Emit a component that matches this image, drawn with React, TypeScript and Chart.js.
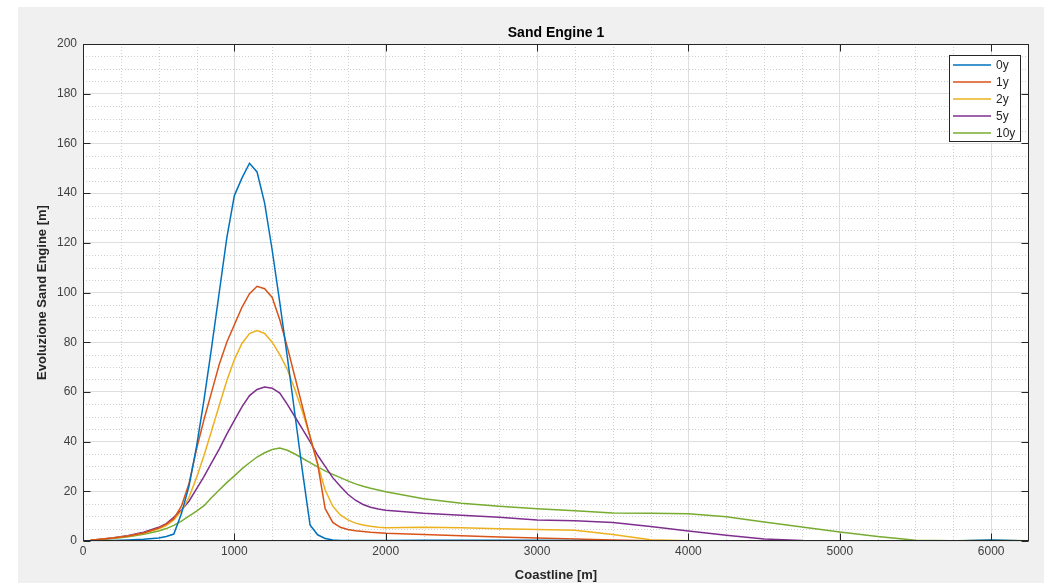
import React, { useEffect, useRef } from 'react';
import { Chart, registerables } from 'chart.js';

Chart.register(...registerables);

const FONT = '"Liberation Sans", Arial, Helvetica, sans-serif';

// Coastline positions [m]
const X = [50, 100, 200, 300, 400, 500,
  550, 600, 650, 700, 750, 800, 850, 900, 950, 1000, 1050, 1100, 1150, 1200, 1250, 1300, 1350, 1400, 1450, 1500,
  1550, 1600, 1650, 1700, 1750, 1800, 1850, 1900, 1950, 2000,
  2250, 2500, 2750, 3000, 3250, 3500, 3750, 4000, 4250, 4500, 4750, 5000, 5250, 5500, 5750, 6000, 6250];

const LABELS = ['0y', '1y', '2y', '5y', '10y'];
const COLORS = ['#0072BD', '#D95319', '#EDB120', '#7E2F8E', '#77AC30'];

const Y0 = [0, 0.1, 0.2, 0.4, 0.7, 1.2,
  1.8, 2.8, 11, 22, 38, 57, 78, 100, 122, 139, 146, 152, 148.5, 136, 117, 96, 74, 51, 28, 6.5,
  2.5, 1, 0.4, 0.2, 0.2, 0.2, 0.2, 0.2, 0.2, 0.2,
  0.3, 0.3, 0.3, 0.3, 0.2, 0, 0, 0, 0, 0, 0, 0, 0, 0, 0, 0.4, 0];

const Y1 = [0.3, 0.6, 1.2, 2, 3.2, 5.2,
  6.8, 9, 14, 23, 37, 49, 60, 71, 80, 87, 94, 99.5, 102.5, 101.5, 98, 89, 78, 66, 54, 42,
  31, 13, 7.5, 5.5, 4.6, 4.1, 3.8, 3.5, 3.3, 3.1,
  2.6, 2.1, 1.6, 1.2, 0.8, 0.4, 0.1, 0, 0, 0, 0, 0, 0, 0, 0, 0, 0];

const Y2 = [0.3, 0.6, 1.2, 2, 3.1, 4.9,
  6.2, 8.5, 12, 17.5, 25.5, 34.5, 44.5, 54.5, 64.5, 73, 79.5, 83.5, 84.7, 83.5, 80, 75, 69, 61, 52, 42,
  31, 20.5, 14, 10.5, 8.5, 7.2, 6.4, 5.9, 5.5, 5.3,
  5.5, 5.3, 4.9, 4.6, 4.3, 2.6, 0.5, 0.1, 0, 0, 0, 0, 0, 0, 0, 0, 0];

const Y5 = [0.3, 0.6, 1.3, 2.2, 3.5, 5.5,
  7, 9.5, 12.5, 16, 21, 26, 31.5, 37, 43, 48.5, 54, 58.5, 61, 62, 61.5, 59.5, 55, 50, 45, 40,
  34.5, 30, 25.5, 22, 18.8, 16.4, 14.7, 13.6, 12.9, 12.4,
  11.2, 10.4, 9.6, 8.5, 8.1, 7.4, 5.8, 4, 2.3, 0.8, 0.2, 0, 0, 0, 0, 0, 0];

const Y10 = [0.3, 0.5, 1, 1.7, 2.7, 4,
  5, 6.3, 8, 10, 12, 14.2, 17.5, 20.5, 23.5, 26.2, 29, 31.5, 33.8, 35.5, 36.8, 37.4, 36.5, 35, 33.3, 31.5,
  29.8, 28.2, 26.8, 25.5, 24.2, 23, 22, 21.2, 20.5, 19.8,
  17, 15.2, 14, 13, 12.2, 11.3, 11.2, 11, 9.8, 7.6, 5.6, 3.6, 1.8, 0.3, 0.1, 0.3, 0.1];

const SERIES = [Y0, Y1, Y2, Y5, Y10];

const X_TICKS = [0, 1000, 2000, 3000, 4000, 5000, 6000];
const Y_TICKS = [0, 20, 40, 60, 80, 100, 120, 140, 160, 180, 200];
const X_MIN = 0;
const X_MAX = 6250;
const X_MINOR = 250;
const Y_MIN = 0;
const Y_MAX = 200;
const Y_MINOR = 5;

const bgPlugin = {
  id: 'bgPlugin',
  beforeDraw(chart: any) {
    const { ctx, width, height, chartArea: a } = chart;
    ctx.save();
    ctx.fillStyle = '#ffffff';
    ctx.fillRect(0, 0, width, height);
    ctx.fillStyle = '#f0f0f0';
    ctx.fillRect(18, 7, width - 18, height - 7);
    ctx.fillStyle = '#ffffff';
    ctx.fillRect(a.left, a.top, a.right - a.left, a.bottom - a.top);
    ctx.restore();
  },
  beforeDatasetsDraw(chart: any) {
    const { ctx, chartArea: a, scales } = chart;
    const xs = scales.x;
    const ys = scales.y;
    ctx.save();
    ctx.strokeStyle = '#cfcfcf';
    ctx.lineWidth = 1;
    ctx.setLineDash([1, 2]);
    for (let v = X_MIN + X_MINOR; v < X_MAX; v += X_MINOR) {
      if (X_TICKS.includes(v)) continue;
      const px = Math.round(xs.getPixelForValue(v)) + 0.5;
      ctx.beginPath();
      ctx.moveTo(px, a.top);
      ctx.lineTo(px, a.bottom);
      ctx.stroke();
    }
    for (let v = Y_MIN + Y_MINOR; v < Y_MAX; v += Y_MINOR) {
      if (Y_TICKS.includes(v)) continue;
      const py = Math.round(ys.getPixelForValue(v)) + 0.5;
      ctx.beginPath();
      ctx.moveTo(a.left, py);
      ctx.lineTo(a.right, py);
      ctx.stroke();
    }
    ctx.restore();
  },
  afterDraw(chart: any) {
    const { ctx, chartArea: a, scales } = chart;
    const xs = scales.x;
    const ys = scales.y;
    ctx.save();
    ctx.strokeStyle = '#262626';
    ctx.lineWidth = 1;
    ctx.setLineDash([]);
    const L = Math.round(a.left) + 0.5;
    const R = Math.round(a.right) - 0.5;
    const T = Math.round(a.top) + 0.5;
    const B = Math.round(a.bottom) - 0.5;
    ctx.strokeRect(L, T, R - L, B - T);
    const tl = 7;
    ctx.beginPath();
    X_TICKS.forEach((v) => {
      const px = Math.round(xs.getPixelForValue(v)) + 0.5;
      ctx.moveTo(px, B);
      ctx.lineTo(px, B - tl);
      ctx.moveTo(px, T);
      ctx.lineTo(px, T + tl);
    });
    Y_TICKS.forEach((v) => {
      const py = Math.round(ys.getPixelForValue(v)) + 0.5;
      ctx.moveTo(L, py);
      ctx.lineTo(L + tl, py);
      ctx.moveTo(R, py);
      ctx.lineTo(R - tl, py);
    });
    ctx.stroke();

    // legend
    const lw = 71;
    const lh = 86;
    const lx = Math.round(a.right) - 80;
    const ly = Math.round(a.top) + 11;
    ctx.fillStyle = '#ffffff';
    ctx.fillRect(lx, ly, lw, lh);
    ctx.strokeStyle = '#262626';
    ctx.strokeRect(lx + 0.5, ly + 0.5, lw, lh);
    ctx.font = `12px ${FONT}`;
    ctx.textBaseline = 'middle';
    ctx.textAlign = 'left';
    chart.data.datasets.forEach((ds: any, i: number) => {
      const yy = ly + 10 + i * 17;
      ctx.strokeStyle = ds.borderColor;
      ctx.lineWidth = 1.5;
      ctx.beginPath();
      ctx.moveTo(lx + 4, yy);
      ctx.lineTo(lx + 42, yy);
      ctx.stroke();
      ctx.fillStyle = '#262626';
      ctx.fillText(ds.label, lx + 47, yy + 0.5);
    });
    ctx.restore();
  },
};

export default function App() {
  const ref = useRef<HTMLCanvasElement>(null);

  useEffect(() => {
    const canvas = ref.current;
    if (!canvas) return;
    const datasets = SERIES.map((ys, i) => ({
      label: LABELS[i],
      data: X.map((x, j) => ({ x, y: ys[j] })),
      borderColor: COLORS[i],
      backgroundColor: COLORS[i],
      borderWidth: 1.5,
      pointRadius: 0,
      tension: 0,
      fill: false,
    }));

    const chart = new Chart(canvas, {
      type: 'line',
      data: { datasets },
      options: {
        animation: false,
        responsive: false,
        devicePixelRatio: 1,
        layout: { padding: { top: 0, right: 15, bottom: 0, left: 0 } },
        plugins: {
          legend: { display: false },
          tooltip: { enabled: false },
          title: {
            display: true,
            text: 'Sand Engine 1',
            fullSize: false,
            color: '#000000',
            font: { family: FONT, size: 14, weight: 'bold' },
            padding: { top: 25, bottom: 2.2 },
          },
        },
        scales: {
          x: {
            type: 'linear',
            min: X_MIN,
            max: X_MAX,
            afterFit: (s: any) => { s.height = 42; },
            afterBuildTicks: (s: any) => { s.ticks = X_TICKS.map((value) => ({ value })); },
            border: { display: false },
            grid: { color: '#dedede', lineWidth: 1, drawTicks: false },
            ticks: {
              padding: 3,
              maxRotation: 0,
              autoSkip: false,
              color: '#404040',
              font: { family: FONT, size: 12 },
              callback: (v: any) => String(v),
            },
            title: {
              display: true,
              text: 'Coastline [m]',
              color: '#262626',
              font: { family: FONT, size: 13, weight: 'bold' },
              padding: { top: 0, bottom: 0 },
            },
          },
          y: {
            type: 'linear',
            min: Y_MIN,
            max: Y_MAX,
            afterFit: (s: any) => { s.width = 83; },
            afterBuildTicks: (s: any) => { s.ticks = Y_TICKS.map((value) => ({ value })); },
            border: { display: false },
            grid: { color: '#dedede', lineWidth: 1, drawTicks: false },
            ticks: {
              padding: 6,
              autoSkip: false,
              color: '#404040',
              font: { family: FONT, size: 12 },
              callback: (v: any) => String(v),
            },
            title: {
              display: true,
              text: 'Evoluzione Sand Engine [m]',
              color: '#262626',
              font: { family: FONT, size: 13, weight: 'bold' },
              padding: { top: 35, bottom: 0 },
            },
          },
        },
      } as any,
      plugins: [bgPlugin],
    });
    return () => chart.destroy();
  }, []);

  return (
    <div style={{ position: 'fixed', left: 0, top: 0, width: 1044, height: 583 }}>
      <canvas ref={ref} width={1044} height={583} style={{ display: 'block' }} />
    </div>
  );
}
